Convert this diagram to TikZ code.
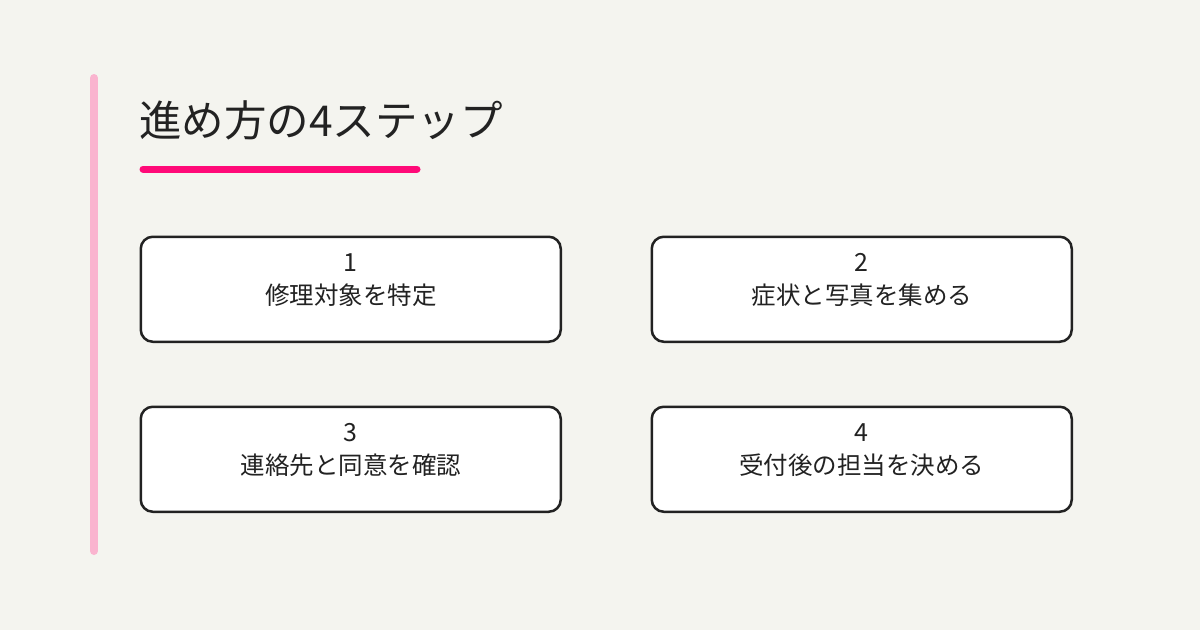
\documentclass[tikz,border=0pt]{standalone}
\usepackage{fontspec}
\setmainfont{Noto Sans CJK JP}
\definecolor{bg}{HTML}{F4F4EF}
\definecolor{barpink}{HTML}{FAB4CF}
\definecolor{accent}{HTML}{FF0A78}
\definecolor{ink}{HTML}{222222}
\tikzset{
  stepbox/.style={draw=ink, line width=2.5pt, fill=white, rounded corners=12pt,
    minimum width=420pt, minimum height=105pt, inner sep=0pt, anchor=north west},
  numtxt/.style={font=\fontsize{25pt}{28pt}\selectfont, text=ink},
  labtxt/.style={font=\fontsize{24.5pt}{28pt}\selectfont, text=ink},
}
\begin{document}
\begin{tikzpicture}[x=1pt,y=-1pt]
\fill[bg] (0,0) rectangle (1200,630);
\useasboundingbox (0,0) rectangle (1200,630);
\draw[barpink, line width=8pt, line cap=round] (94,78) -- (94,551);
\node[anchor=base west, inner sep=0pt, text=ink, font=\fontsize{42.5pt}{48pt}\selectfont] (title) at (139,136) {進め方の4ステップ};
\draw[accent, line width=7pt, line cap=round] (143,169) -- (417,169);
\node[stepbox] (s1) at (139.5,235.5) {};
\node[stepbox] (s2) at (650.5,235.5) {};
\node[stepbox] (s3) at (139.5,405.5) {};
\node[stepbox] (s4) at (650.5,405.5) {};
\foreach \n/\num/\lab in {s1/1/修理対象を特定, s2/2/症状と写真を集める, s3/3/連絡先と同意を確認, s4/4/受付後の担当を決める}{
  \node[numtxt] (\n num) at ([yshift=-27pt]\n.north) {\num};
  \node[labtxt] (\n lab) at ([yshift=-60pt]\n.north) {\lab};
}
\end{tikzpicture}
\end{document}
